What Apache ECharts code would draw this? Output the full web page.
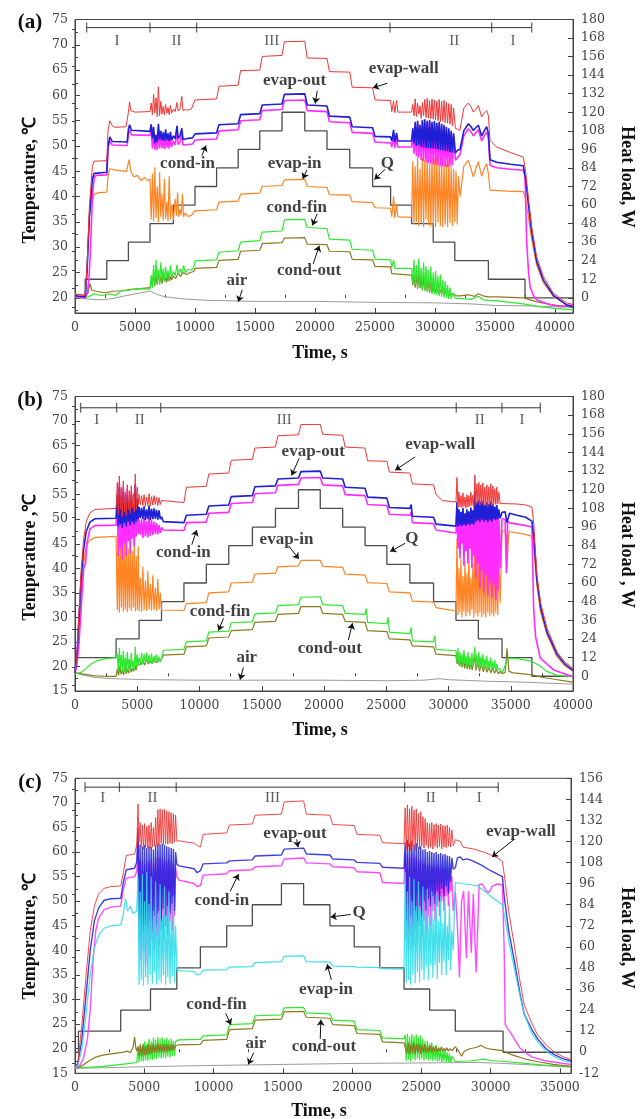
<!DOCTYPE html>
<html><head><meta charset="utf-8">
<script src="https://cdn.jsdelivr.net/npm/echarts@6/dist/echarts.min.js"></script>
<style>html,body{margin:0;padding:0;background:#fff}#chart{width:644px;height:1119px}</style>
</head><body><div id="chart"></div>
<script>
// ---------- tick labels ----------
const timeTicksAB = [0,5000,10000,15000,20000,25000,30000,35000,40000];
const timeTicksC = [0,5000,10000,15000,20000,25000,30000,35000];
const tempTicksA = [20,25,30,35,40,45,50,55,60,65,70,75];
const tempTicksBC = [15,20,25,30,35,40,45,50,55,60,65,70,75];
const loadTicksAB = [0,12,24,36,48,60,72,84,96,108,120,132,144,156,168,180];
const loadTicksC = [-12,0,12,24,36,48,60,72,84,96,108,120,132,144,156];

// ---------- panel (a) : [time s, value] ----------
const loadA = [[0,0],[850,12],[2650,24],[4450,36],[6250,48],[8200,60],[10000,72],[11800,84],[13600,96],[15400,108],[17250,120],[19150,108],[21000,96],[22900,84],[24800,72],[26300,60],[28050,48],[29850,36],[31650,24],[34450,12],[37500,0],[41500,0]];
const wallA = [[0,20.7],[850,20.5],[1000,26],[1200,38],[1450,46],[1600,47],[2650,47.1],[2750,53],[2900,55],[3100,54],[3300,53.7],[4250,53.8],[4450,56.6],[4550,58.7],[4650,57],[5000,56.7],[6250,56.8],
[6350,58.5],[6450,56.2],[6550,60.2],[6650,56.5],[6750,59.5],[6850,55.8],[6950,61.7],[7050,56],[7150,58.8],[7250,56.3],[7350,57.8],[7450,56.1],[7550,58.2],[7650,56.5],[7750,57.6],[7850,56.2],[7950,58],[8050,56.5],[8200,57.3],[8350,56.8],[8500,58.6],[8600,56.9],[8750,57.4],[8900,59.8],[9000,57],[9200,57.2],[9400,57.1],[9700,57.3],
[10000,59.1],[11800,59.3],[12000,61.8],[13600,62],[13800,64.9],[15400,65],[15600,67.7],[17250,67.9],[17450,70.6],[19150,70.7],[19350,67.4],[21000,67.3],[21200,64.7],[22900,64.6],[23100,61.6],[24800,61.5],[25000,59.1],[26300,59.0],[26400,56.8],[26550,58.9],[26650,56.6],[26800,59.0],[26900,56.7],[27400,56.7],[28050,56.7],
[28150,58.2],[28250,56],[28350,59.3],[28450,55.8],[28550,58.5],[28650,56.3],[28750,57.9],[28850,55.5],[28950,58.6],[29050,56],[29150,59.2],[29250,55.6],[29350,59.4],[29450,55.5],[29550,59],[29650,55.4],[29750,59.3],[29850,55.3],[29950,59.1],[30050,55.2],[30150,58.9],[30250,55],[30350,59.2],[30450,54.8],[30550,58.8],[30650,54.9],[30750,59],[30850,54.6],[30950,58.6],[31050,54.5],[31150,58.4],[31250,54.3],[31350,58.2],[31450,54.0],[31550,57.5],[31700,53.5],
[31800,53.5],[32083,53.1],[32400,57.5],[32778,58.5],[33000,57.8],[33195,56.7],[33400,57.2],[33612,58],[33890,55.8],[34100,56.5],[34307,57],[34450,56],[34584,51.1],[35140,49.8],[36300,48.7],[37362,47.8],[37550,45],[37780,39.9],[38057,34.1],[38473,28.1],[39029,24.2],[39862,20.9],[40974,19],[41500,18.7]];
const outA = [[0,20.4],[850,20.2],[1000,25],[1200,36],[1450,43.5],[1600,44.6],[2650,44.8],[2750,50],[2900,51.8],[3100,50.9],[4350,50.8],[4450,53.3],[4550,54.2],[4700,53.1],[6250,52.9],
[6350,54.3],[6450,51.5],[6550,53.8],[6650,50.5],[6750,52.2],[6850,50.8],[6950,54.4],[7050,51.3],[7150,53],[7250,51.1],[7350,52.7],[7450,51],[7550,53.3],[7650,51.2],[7750,52.5],[7850,51],[7950,52.8],[8050,51.1],[8200,52],[8350,51.4],[8500,54],[8600,51.5],[8750,52],[8900,53.5],[9000,51.3],[9400,51.5],[9800,51.6],
[10000,52.4],[11800,52.6],[12000,54.2],[13600,54.4],[13800,56.2],[15400,56.4],[15600,58.1],[17250,58.3],[17450,60.2],[19150,60.3],[19350,58.1],[21000,57.9],[21200,55.9],[22900,55.7],[23100,53.8],[24800,53.6],[25000,51.9],[26300,51.8],[26400,51],[26550,53.2],[26650,50.8],[26800,52.6],[26900,51],[28050,51],
[28150,53.5],[28250,50.5],[28350,54.8],[28450,50],[28550,55],[28650,50.2],[28750,54.2],[28850,49.8],[28950,55.2],[29050,49.7],[29150,55.3],[29250,49.6],[29350,55],[29450,49.6],[29550,55.2],[29650,49.5],[29750,54.8],[29850,49.5],[29950,55],[30050,49.4],[30150,54.6],[30250,49.3],[30350,54.8],[30450,49.2],[30550,54.4],[30650,49.1],[30750,54.2],[30850,49],[30950,53.8],[31050,48.9],[31150,53.5],[31250,48.8],[31350,53],[31450,48.7],[31550,52.5],[31700,48.6],
[31900,49.2],[32083,49.3],[32400,53],[32778,54.4],[33000,53.8],[33195,53.1],[33400,53.6],[33612,54.1],[33890,52],[34100,53],[34307,53.8],[34450,52.5],[34584,47.3],[35140,46.8],[36300,46.4],[37362,46.1],[37550,43.5],[37780,38.5],[38057,33],[38473,27.2],[39029,23.5],[39862,20.5],[40974,18.6],[41500,18.2]];
const condInA = [[0,20.2],[850,20],[1000,21],[1150,23],[1300,30],[1450,40],[1600,43.8],[1750,44.2],[2650,44.3],[2750,49.5],[2900,51],[3100,50.2],[4350,50.1],[4450,52.4],[4550,53.2],[4700,52.2],[6250,52.1],
[6350,53.5],[6450,49.5],[6550,52.8],[6650,49.3],[6750,51.8],[6850,49.2],[6950,53.2],[7050,49.5],[7150,52.2],[7250,49.6],[7350,51.7],[7450,49.4],[7550,52.4],[7650,49.7],[7750,51.5],[7850,49.5],[7950,51.8],[8050,49.8],[8200,51],[8350,50.2],[8500,52.8],[8600,50.3],[8750,50.8],[8900,52.3],[9000,50.2],[9400,50.3],[9800,50.4],
[10000,51.2],[11800,51.4],[12000,53.0],[13600,53.2],[13800,55],[15400,55.2],[15600,57],[17250,57.2],[17450,59],[19150,59.1],[19350,57],[21000,56.8],[21200,54.8],[22900,54.6],[23100,52.7],[24800,52.5],[25000,50.8],[26300,50.6],[26400,49.8],[26550,52.5],[26650,49.6],[26800,51.6],[26900,49.8],[28050,49.8],
[28150,52.5],[28250,48.5],[28350,54],[28450,48],[28550,54.5],[28650,47.8],[28750,53.5],[28850,47.2],[28950,54.8],[29050,47],[29150,54.6],[29250,46.8],[29350,54.5],[29450,46.6],[29550,54.7],[29650,46.5],[29750,54.2],[29850,46.4],[29950,54.5],[30050,46.3],[30150,54],[30250,46.2],[30350,54.2],[30450,46],[30550,53.8],[30650,46],[30750,53.6],[30850,45.9],[30950,53.2],[31050,45.8],[31150,53],[31250,46],[31350,52.4],[31450,46.2],[31550,52],[31700,47.2],
[31900,47.8],[32083,48.3],[32400,52],[32778,53.4],[33000,52.8],[33195,52],[33400,52.6],[33612,53.2],[33890,51],[34100,52],[34307,52.8],[34450,51.5],[34584,46.2],[35140,45.7],[36300,45.4],[37362,45.2],[37500,44],[37640,31],[37800,25],[37918,22.2],[38200,20.5],[38473,19.6],[39500,18.7],[40500,18.3],[41500,18.6]];
const evapInA = [[0,20.8],[850,20.5],[1000,26],[1200,36],[1400,40.5],[1500,39.5],[1600,40.5],[2000,40.8],[2650,40.9],[2750,44],[2900,45.5],[3500,45.2],[4300,45],[4500,47.3],[4650,45],[4900,43.9],[5200,44.2],[5500,43.2],[5800,43.8],[6100,43.1],[6250,43.5],
[6350,35.5],[6450,44.5],[6550,35.2],[6650,45.8],[6750,35.8],[6850,42],[6950,35],[7050,44.8],[7150,36],[7250,40.5],[7350,35.3],[7450,43.5],[7550,35.6],[7650,39],[7750,35.2],[7850,44],[7950,35.5],[8050,38.5],[8200,35.4],[8350,39.5],[8450,36.2],[8550,40.8],[8650,36],[8750,37.5],[8850,36.3],[8950,40.5],[9050,36],[9200,36.8],[9400,36.1],[9700,36.3],
[10000,37.2],[11800,37.4],[12000,38.9],[13600,39.1],[13800,40.5],[15400,40.7],[15600,42],[17250,42.2],[17450,43.3],[19150,43.4],[19350,42],[21000,41.8],[21200,40.4],[22900,40.3],[23100,39],[24800,38.8],[25000,37.8],[26300,37.7],[26400,36],[26550,40],[26650,35.8],[26800,38.5],[26900,36],[28050,35.9],
[28150,47],[28250,34.5],[28350,46],[28450,35],[28550,48],[28650,34.2],[28750,45.5],[28850,34.8],[28950,47.8],[29050,34],[29150,47.2],[29250,35.5],[29350,48],[29450,34.3],[29550,46.5],[29650,34.1],[29750,47.9],[29850,34.5],[29950,47.5],[30050,34],[30150,48],[30250,35],[30350,46.8],[30450,34.2],[30550,47.6],[30650,34],[30750,47],[30850,34.5],[30950,46.5],[31050,34],[31150,47.2],[31250,34.8],[31350,46],[31450,34.2],[31550,45.5],[31650,35],[31750,45],[31850,34.5],[31950,44],[32100,40],
[32400,46],[32778,47.2],[33000,45.5],[33195,43.9],[33400,45.5],[33612,46.9],[33890,44],[34100,45.5],[34307,46.5],[34450,44.5],[34584,41.3],[36000,41.1],[37362,41],[37550,39.5],[37780,36],[38057,31.5],[38473,26.5],[39029,23],[39862,20.3],[40974,18.6],[41500,18.3]];
const finA = [[0,20.1],[850,20],[1200,20.3],[1600,20.8],[2200,20.4],[2800,20.8],[3400,20.5],[3800,21.3],[4450,21.5],[5200,21.8],[6250,21.7],
[6350,24.5],[6450,22],[6550,26.5],[6650,22.3],[6750,27.5],[6850,23],[6950,25.5],[7050,22.6],[7150,27],[7250,23.4],[7350,25.8],[7450,23.2],[7550,26.2],[7650,23.8],[7750,25.4],[7850,23.6],[7950,26.5],[8050,24],[8200,25.2],[8350,24.4],[8500,26.5],[8600,24.6],[8750,25.7],[8900,24.8],[9050,26.4],[9200,25],[9400,25.6],[9700,25.5],[9900,26],
[10000,27.3],[11800,27.5],[12000,29],[13600,29.3],[13800,31],[15400,31.3],[15600,33],[17250,33.2],[17450,35.4],[19150,35.5],[19350,33.9],[21000,33.7],[21200,31.6],[22900,31.4],[23100,29.6],[24800,29.4],[25000,27.6],[26300,27.5],[26400,26],[26550,27.5],[26650,25.8],[28050,25.8],
[28150,23],[28250,27.5],[28350,22.5],[28450,26.5],[28550,22],[28650,27.8],[28750,22.3],[28850,26],[28950,21.8],[29050,27],[29150,21.5],[29250,26.3],[29350,21.3],[29450,25.5],[29550,21],[29650,26.2],[29750,20.8],[29850,25],[29950,20.7],[30050,25.3],[30150,20.5],[30250,24.3],[30350,20.3],[30450,24.6],[30550,20.2],[30650,23.5],[30750,20],[30850,23.3],[30950,20],[31050,22.5],[31150,19.8],[31250,22],[31350,19.8],[31500,21],[31700,19.9],
[32083,19.9],[33000,19.7],[33612,20.3],[34000,19.6],[34450,19.5],[35200,19.4],[36300,19.1],[37362,18.8],[38500,18.3],[40000,17.9],[41500,17.6]];
const condOutA = [[0,20.3],[850,20.2],[1100,21],[1250,22.8],[1400,21.5],[1800,21.3],[2500,21],[3200,21.3],[3800,21.4],[4450,21.6],[5500,21.8],[6250,22],
[6350,23.3],[6450,22.2],[6550,25],[6650,22.4],[6750,24.5],[6850,22.6],[6950,25.6],[7050,23],[7150,24.2],[7250,22.8],[7350,24.8],[7450,23.2],[7550,24],[7650,23.1],[7750,24.6],[7850,23.3],[7950,24.2],[8050,23.5],[8200,24.3],[8400,23.8],[8600,24.9],[8800,24.2],[9000,25],[9300,24.6],[9600,25],[9900,25.2],
[10000,25.8],[11800,26],[12000,27.4],[13600,27.6],[13800,29.2],[15400,29.4],[15600,30.7],[17250,30.9],[17450,31.8],[19150,31.9],[19350,30.6],[21000,30.5],[21200,29.2],[22900,29.1],[23100,27.6],[24800,27.5],[25000,26.2],[26300,26.1],[26400,24.8],[28050,24.5],
[28150,22.5],[28250,24.5],[28350,22],[28450,24.3],[28550,21.8],[28650,24.6],[28750,21.9],[28850,23.8],[28950,21.5],[29050,24],[29150,21.4],[29250,23.5],[29350,21.2],[29450,23.3],[29550,21],[29650,23],[29750,20.9],[29850,22.6],[29950,20.8],[30150,22.2],[30350,20.7],[30550,21.8],[30750,20.6],[30950,21.4],[31200,20.5],[31500,20.8],[31800,20.4],
[32083,20.4],[32800,20.6],[33300,20.3],[33612,20.8],[34000,20.4],[34450,20.2],[35200,20.2],[36300,20.1],[37362,20],[38500,19.2],[40000,18.5],[41500,18.2]];
const airA = [[0,20.1],[850,19.8],[2000,19.6],[3000,19.8],[4000,20.3],[5000,20.8],[6000,21.2],[6300,21.3],[6800,20.7],[7500,20.2],[9000,19.8],[11000,19.5],[15000,19.3],[20000,19.3],[25000,19.1],[30000,19],[33000,18.8],[35000,18.5],[38000,18.4],[41500,18.1]];

// ---------- panel (b) ----------
const loadB = [[0,12],[3300,24],[5150,36],[6950,48],[8750,60],[10550,72],[12350,84],[14250,96],[16100,108],[17950,120],[19700,108],[21500,96],[23300,84],[25050,72],[26900,60],[28800,48],[30600,36],[32400,24],[34300,12],[36700,0],[40000,0]];
const wallB = [[0,18.8],[150,22],[300,30],[500,40],[700,46],[900,49.5],[1200,51.3],[1600,52],[2500,52.1],[3300,52.2],
[3400,57.5],[3480,51],[3560,58.8],[3640,52],[3720,56.5],[3800,50.5],[3880,57.8],[3960,51.5],[4040,55.5],[4120,50.8],[4200,57],[4280,52],[4360,55.8],[4440,51.2],[4520,56.8],[4600,52.3],[4680,55.2],[4760,51.5],[4840,59.2],[4920,52],[5000,56.5],[5080,53],[5150,55],[5250,53],[5350,54.8],[5450,52.8],[5550,55],[5650,52.6],[5750,54.5],[5850,52.8],[5950,55.2],[6050,52.7],[6150,54.6],[6250,52.9],[6350,54.8],[6450,53],[6550,54.5],[6650,52.8],[6750,54.4],[6850,53],[6950,53.8],
[7100,53.5],[8750,53.4],[8950,56.5],[10550,56.7],[10750,59.2],[12350,59.4],[12550,62],[14250,62.2],[14450,64.5],[16100,64.7],[16300,67],[17950,67.2],[18150,69.3],[19700,69.3],[19900,67.3],[21500,67.1],[21700,64.7],[23300,64.5],[23500,61.9],[25050,61.8],[25250,59.6],[26900,59.4],[27100,57.2],[28800,57.0],[29000,55],[29500,53.8],[30600,53.5],
[30680,58.5],[30760,52.3],[30840,55.5],[30920,52.5],[31000,54.8],[31080,52.4],[31160,55.3],[31240,52.6],[31320,54.5],[31400,52.3],[31480,55],[31560,52.5],[31640,54.8],[31720,52.6],[31800,55.5],[31880,52.8],[31960,54.9],[32040,52.4],[32120,59],[32200,53],[32280,57.2],[32360,53.5],[32440,57.5],[32520,52.8],[32600,57],[32680,53.2],[32760,57.4],[32840,52.8],[32920,56.5],[33000,53],[33080,57],[33160,52.6],[33240,56.6],[33320,53],[33400,57.2],[33480,52.7],[33560,56.8],[33640,53.2],[33720,56.2],[33800,53],[33880,56.5],[33960,53.1],[34040,55.5],[34150,53.2],
[34300,53.3],[35500,53.1],[36200,52.9],[36700,52.5],[36850,49],[37104,38.6],[37400,33],[37907,27.8],[38711,23],[39300,21],[40000,19.6]];
const outB = [[0,18.7],[150,22],[300,29],[500,38],[700,44],[900,47.5],[1200,49.4],[1600,50.1],[3300,50.2],
[3400,55],[3480,48.5],[3560,56.5],[3640,49],[3720,54.5],[3800,48.2],[3880,55.8],[3960,49.2],[4040,53.5],[4120,48.5],[4200,55],[4280,49.5],[4360,53.8],[4440,48.8],[4520,54.8],[4600,49.5],[4680,53],[4760,49],[4840,57],[4920,49.5],[5000,54.2],[5080,50],[5150,52.5],[5250,50.2],[5350,52.3],[5450,50],[5550,52.6],[5650,49.8],[5750,52],[5850,50],[5950,52.8],[6050,49.8],[6150,52.1],[6250,50],[6350,52.2],[6450,50.1],[6550,51.9],[6650,49.9],[6750,51.8],[6850,50],[6950,50.5],
[7100,49.5],[8750,49.3],[8950,50.8],[10550,51.0],[10750,52.7],[12350,52.9],[12550,54.6],[14250,54.8],[14450,56.6],[16100,56.8],[16300,58.2],[17950,58.4],[18150,59.7],[19700,59.8],[19900,58.4],[21500,58.2],[21700,56.5],[23300,56.3],[23500,54.5],[25050,54.3],[25250,52.4],[26900,52.2],[27000,53],[27100,50.6],[28800,50.4],[29000,49],[30600,48.6],
[30680,53.5],[30760,48.5],[30840,52],[30920,48.8],[31000,51.5],[31080,48.6],[31160,52.3],[31240,48.9],[31320,51.2],[31400,48.7],[31480,52],[31560,49],[31640,51.6],[31720,48.8],[31800,52.4],[31880,49.1],[31960,51.8],[32040,48.9],[32120,55.5],[32200,49.5],[32280,53.5],[32360,49.8],[32440,54],[32520,49.4],[32600,53.6],[32680,49.9],[32760,53.8],[32840,49.5],[32920,53],[33000,49.8],[33080,53.5],[33160,49.4],[33240,53.1],[33320,49.8],[33400,53.6],[33480,49.5],[33560,53.2],[33640,50],[33720,52.6],[33800,49.8],[33880,52.9],[33960,50],[34040,52],[34150,50.2],
[34300,51.4],[34550,51.5],[34700,49.3],[34900,51.2],[35500,50.8],[36200,50.4],[36700,49.6],[36850,46.5],[37104,37.5],[37400,32],[37907,27],[38711,22.5],[39300,20.6],[40000,19.2]];
const condInB = [[0,18.6],[150,20.5],[300,24],[500,32],[700,40],[850,41],[950,45],[1200,48],[1600,48.7],[3300,48.8],
[3400,54],[3480,42.5],[3560,57.3],[3640,44],[3720,55],[3800,41.8],[3880,56.5],[3960,45],[4040,54.5],[4120,42.5],[4200,56.2],[4280,45.5],[4360,53.5],[4440,43],[4520,55.5],[4600,46],[4680,52.5],[4760,44.5],[4840,57],[4920,46.5],[5000,53],[5080,47],[5150,50],
[5250,46.8],[5350,50],[5450,46.2],[5550,50.3],[5650,46.5],[5750,49.6],[5850,46.3],[5950,50.4],[6050,46.6],[6150,49.8],[6250,46.8],[6350,49.5],[6450,47],[6550,49.2],[6650,46.9],[6750,48.8],[6850,47.2],[6950,48.3],
[7100,47.8],[8750,47.7],[8950,49.3],[10550,49.4],[10750,51.2],[12350,51.4],[12550,53.2],[14250,53.4],[14450,55.2],[16100,55.4],[16300,56.9],[17950,57.1],[18150,58.4],[19700,58.5],[19900,57],[21500,56.8],[21700,55],[23300,54.8],[23500,53],[25050,52.8],[25250,51],[26900,50.8],[27000,51.5],[27100,49.3],[28800,49.1],[29000,47.8],[30600,47.2],
[30680,52],[30760,44],[30840,51],[30920,42],[31000,50.5],[31080,45],[31160,51.5],[31240,40.5],[31320,50],[31400,43.5],[31480,51],[31560,41],[31640,50.5],[31720,44],[31800,51.8],[31880,40],[31960,50.6],[32040,42.5],[32120,54],[32200,38],[32280,53],[32360,41],[32440,53.5],[32520,36],[32600,53],[32680,39.5],[32760,53.4],[32840,35],[32920,52.5],[33000,38.5],[33080,53],[33160,34.5],[33240,52.8],[33320,37],[33400,53.2],[33480,34],[33560,52.6],[33640,36.5],[33720,52],[33800,33.5],[33880,52.2],[33960,35.5],[34040,51.5],[34150,40],
[34300,50.1],[34550,50],[34650,39],[34750,49.5],[35000,49.2],[35800,48.9],[36700,48.4],[36836,31.9],[37000,26],[37372,21.7],[38443,19.3],[40000,17.9]];
const evapInB = [[0,18.6],[150,21],[300,27],[500,35],[700,41],[900,44.5],[1100,45.5],[1600,46.3],[3300,46.5],
[3400,31.5],[3480,47.2],[3560,31],[3640,46.5],[3720,32],[3800,47.4],[3880,31.2],[3960,45.5],[4040,31.6],[4120,46.8],[4200,31.1],[4280,44],[4360,31.8],[4440,46.2],[4520,31.3],[4600,43.5],[4680,32],[4760,45.8],[4840,31.2],[4920,42.5],[5000,31.5],[5080,44.5],[5150,31.3],
[5250,38],[5350,31.2],[5450,40.3],[5550,31.5],[5650,37.5],[5750,31.3],[5850,39.5],[5950,31.6],[6050,36.8],[6150,31.4],[6250,38.6],[6350,31.5],[6450,36],[6550,31.3],[6650,37.8],[6750,31.6],[6850,35],[6950,31.5],
[7100,31.3],[8750,31.4],[8950,32.8],[10550,33],[10750,35],[12350,35.2],[12550,37],[14250,37.2],[14450,38.8],[16100,39],[16300,40.3],[17950,40.5],[18150,41.6],[19700,41.6],[19900,40.4],[21500,40.2],[21700,38.8],[23300,38.6],[23500,37.1],[25050,36.9],[25250,35.2],[26900,35],[27100,33.3],[28800,33.1],[29000,32],[30600,31.3],
[30680,46],[30760,30.5],[30840,40],[30920,31],[31000,42],[31080,30],[31160,38.5],[31240,31.2],[31320,41.5],[31400,30.2],[31480,39],[31560,31],[31640,43],[31720,30.4],[31800,38],[31880,31.5],[31960,41],[32040,30],[32120,47],[32200,30.8],[32280,44],[32360,30.2],[32440,45.5],[32520,31],[32600,43],[32680,30.1],[32760,46],[32840,30.6],[32920,42.5],[33000,30],[33080,45],[33160,31],[33240,43.5],[33320,30.3],[33400,45.8],[33480,30.8],[33560,42],[33640,30.2],[33720,44],[33800,31],[33880,41.5],[33960,30.5],[34040,43],[34150,33],
[34300,47.5],[34550,47.8],[34700,40],[34850,47.5],[35500,47.2],[36200,46.9],[36700,46.5],[36850,44],[37104,36.5],[37400,31],[37907,26.5],[38711,22],[39300,20.2],[40000,19]];
const finB = [[0,18.5],[500,18.8],[900,19.6],[1300,20.5],[1800,21.2],[2500,21.6],[3300,21.8],
[3400,22.5],[3480,19],[3560,23.8],[3640,19.5],[3720,22.4],[3800,18.6],[3880,23.2],[3960,19.2],[4040,21.8],[4120,18.8],[4200,23],[4280,19.6],[4360,21.5],[4440,19],[4520,22.8],[4600,19.8],[4680,21.2],[4760,19.3],[4840,24],[4920,19.8],[5000,22.5],[5080,20.2],[5150,21.8],
[5250,20.5],[5350,22.8],[5450,20.4],[5550,22.5],[5650,20.6],[5750,22.9],[5850,20.5],[5950,22.3],[6050,20.7],[6150,22.6],[6250,20.6],[6350,22.2],[6450,20.8],[6550,22.4],[6650,20.7],[6750,22],[6850,20.9],[6950,21.5],
[7100,23.3],[8750,23.5],[8950,25],[10550,25.2],[10750,27],[12350,27.2],[12550,28.9],[14250,29.1],[14450,30.7],[16100,30.9],[16300,32.4],[17950,32.6],[18150,34.1],[19700,34.2],[19900,32.6],[21500,32.4],[21700,30.8],[23300,30.6],[23400,31.8],[23500,29],[25050,28.7],[25150,30],[25250,27],[26900,26.7],[27000,28],[27100,25.2],[28800,25],[28900,26.3],[29000,23.5],[30600,23.2],
[30680,21],[30760,23.8],[30840,20.2],[30920,23],[31000,20.6],[31080,22.6],[31160,20],[31240,23.4],[31320,20.5],[31400,22.2],[31480,19.8],[31560,23],[31640,20.4],[31720,22],[31800,19.6],[31880,22.8],[31960,20.2],[32040,21.8],[32120,24],[32200,19.8],[32280,22.5],[32360,20],[32440,23],[32520,19.5],[32600,22],[32680,19.8],[32760,22.6],[32840,19.4],[32920,21.5],[33000,19.7],[33080,22.2],[33160,19.3],[33240,21.2],[33320,19.6],[33400,21.8],[33480,19.2],[33560,21],[33640,19.5],[33720,21.3],[33800,19.2],[33880,20.6],[33960,19.4],[34150,19.5],
[34300,18.6],[34600,20.5],[34830,21.7],[35500,21.6],[36200,21.3],[36700,21],[37300,20.2],[37900,19],[38700,18.2],[40000,17.9]];
const condOutB = [[0,18.7],[800,18.4],[1600,18.1],[2500,18],[3300,18],
[3400,19.5],[3500,18.2],[3600,20],[3700,18.4],[3800,19.3],[3900,18.3],[4000,20.2],[4100,18.5],[4200,19.4],[4300,18.6],[4400,20.3],[4500,18.8],[4600,19.6],[4700,19],[4800,20.5],[4900,19.2],[5000,20.3],[5150,20],
[5300,20.4],[5450,21.2],[5600,20.3],[5750,21.4],[5900,20.5],[6050,21.2],[6200,20.6],[6350,21.5],[6500,20.8],[6650,21.3],[6800,21],[6950,21.5],
[7100,22.3],[8750,22.5],[8950,24],[10550,24.2],[10750,25.8],[12350,26],[12550,27.3],[14250,27.5],[14450,29],[16100,29.2],[16300,30.6],[17950,30.8],[18150,32.2],[19700,32.2],[19900,30.8],[21500,30.6],[21700,29.2],[23300,29],[23500,27.3],[25050,27.1],[25250,25.6],[26900,25.4],[27100,24.2],[28800,24],[29000,22.5],[30600,22.2],
[30700,20.5],[30800,22],[30900,20],[31000,21.5],[31100,19.8],[31200,21.7],[31300,19.6],[31400,21.2],[31500,19.5],[31600,21],[31700,19.4],[31800,20.8],[31900,19.3],[32000,20.5],[32120,22],[32200,19.2],[32350,20.8],[32500,19],[32650,20.5],[32800,18.9],[32950,20.2],[33100,18.8],[33250,19.9],[33400,18.7],[33550,19.7],[33700,18.6],[33850,19.4],[34000,18.5],[34150,19],
[34300,18.5],[34550,18.8],[34700,23.7],[34850,19],[35200,18.7],[36000,18.5],[36700,18.3],[37500,17.8],[38500,17.4],[40000,16.8]];
const airB = [[0,18.8],[500,18.3],[1500,17.8],[3000,17.5],[6000,17.3],[10000,17.2],[15000,17.2],[20000,17.2],[25000,17.1],[28000,17.2],[29300,17.5],[30000,17.3],[33000,17],[36000,16.8],[40000,16.4]];

// ---------- panel (c) ----------
const loadC = [[0,0],[250,12],[3300,24],[5450,36],[7350,48],[9050,60],[10950,72],[12800,84],[14900,96],[16500,84],[18400,72],[20150,60],[22000,48],[23750,36],[25600,24],[27450,12],[30900,0],[35800,0]];
const wallC = [[0,16.5],[200,17],[500,25],[800,35],[1100,44],[1400,49],[1700,51.5],[2100,52.6],[2600,53],[3300,53.1],[3500,56],[3700,59.3],[4300,59.6],[4460,61.5],
[4550,69.8],[4620,62],[4700,66],[4780,61],[4860,65.5],[4940,60.5],[5020,65.8],[5100,61],[5180,65.2],[5260,60.8],[5340,65.5],[5420,60.5],[5500,66],[5580,61],[5660,65],[5740,61.2],[5820,67],[5900,61.5],[5980,68.6],[6060,61.2],[6140,68.8],[6220,61.8],[6300,68.6],[6380,61.5],[6460,68.7],[6540,61.7],[6620,68.4],[6700,61.6],[6780,68.2],[6860,61.8],[6940,68],[7020,61.7],[7100,67.8],[7180,62],[7260,67.5],[7354,62.2],
[7500,62.3],[8600,61.8],[8900,61.2],[9050,61],[9250,63.6],[10950,63.9],[11150,65.5],[12800,65.7],[13000,67.5],[14900,67.7],[15100,70.2],[16500,70.4],[16700,67.7],[18400,67.5],[18600,65.6],[20150,65.4],[20350,63.6],[22000,63.4],[22200,61.9],[23750,61.7],
[23830,69],[23910,60.5],[23990,69.6],[24070,61],[24150,68.8],[24230,60.3],[24310,69.3],[24390,61.2],[24470,68.5],[24550,60.5],[24630,68.8],[24710,61],[24790,67.8],[24870,60.6],[24950,68.2],[25030,61.2],[25110,67.2],[25190,60.8],[25270,66.8],[25350,61.3],[25430,66],[25510,60.7],[25590,65.8],[25670,61],[25750,66],[25830,60.6],[25910,65.6],[25990,61.2],[26070,65.8],[26150,60.8],[26230,65.5],[26310,61.1],[26390,65.7],[26470,60.6],[26550,65.4],[26630,61],[26710,65.3],[26790,60.9],[26870,65.5],[26950,61.2],[27030,65],[27110,61],[27200,64.5],[27300,61.3],[27450,62.5],
[27800,62.2],[28000,61],[28800,60.6],[29700,59.8],[30500,58.8],[30850,58.1],[30979,55.5],[31300,48],[31702,41.1],[32100,34],[32425,28.9],[33000,25],[33390,22.8],[34000,20.8],[34595,19.3],[35200,18.4],[35800,17.8]];
const outC = [[0,16.3],[200,16.8],[500,22],[800,31],[1100,40],[1400,46],[1700,48.6],[2100,50.2],[2600,50.5],[3300,50.6],[3500,54],[3700,56.4],[4300,56.7],[4460,58],
[4550,65],[4620,46],[4700,61.5],[4780,43],[4860,61],[4940,44],[5020,61.5],[5100,45],[5180,60.8],[5260,43.5],[5340,61.2],[5420,46],[5500,61],[5580,44],[5660,60.5],[5740,47],[5820,61.5],[5900,45],[5980,61.8],[6060,48],[6140,61.6],[6220,46],[6300,61.7],[6380,48.5],[6460,61.5],[6540,47],[6620,61.2],[6700,49],[6780,61],[6860,47.5],[6940,60.8],[7020,49.5],[7100,60.6],[7180,48],[7260,60],[7354,57.5],
[7500,57.2],[8600,56.6],[8800,55.8],[9050,56.2],[9250,57.6],[10950,57.8],[11150,58.2],[12800,58.4],[13000,59.2],[14900,59.4],[15100,60.6],[16500,60.8],[16700,59.6],[18400,59.4],[18600,58.6],[20150,58.4],[20350,57.9],[22000,57.7],[22200,56.9],[23750,56.7],
[23830,62],[23910,46],[23990,62.5],[24070,44],[24150,61.8],[24230,47],[24310,62.3],[24390,45],[24470,61.5],[24550,48],[24630,61.8],[24710,46],[24790,61],[24870,49],[24950,61.2],[25030,47],[25110,60.5],[25190,50],[25270,60.6],[25350,48],[25430,60],[25510,50.5],[25590,60.2],[25670,49],[25750,60],[25830,51],[25910,59.8],[25990,49.5],[26070,60],[26150,52],[26230,59.6],[26310,50],[26390,59.8],[26470,52.5],[26550,59.5],[26630,51],[26710,59.6],[26790,53],[26870,59.3],[26950,51.5],[27030,59.2],[27110,54],[27200,58.8],[27300,56.5],[27450,56.8],
[27600,58.8],[27800,59],[28000,58.4],[28300,58.6],[28700,58.2],[29300,57.4],[30000,56.2],[30850,55],[30979,51],[31300,44],[31702,38],[32100,31.5],[32425,27],[33000,23.8],[33390,22],[34000,20],[34595,18.8],[35200,18],[35800,17.5]];
const condInC = [[0,16],[300,16.3],[600,18],[900,22],[1100,28],[1300,38],[1500,44],[1700,46.5],[2100,48.3],[2600,48.8],[3300,49],[3500,52.5],[3700,54.7],[4300,55],[4460,56],
[4550,62],[4620,42],[4700,58.5],[4780,38],[4860,58],[4940,40],[5020,57.5],[5100,37],[5180,58.2],[5260,41],[5340,57.8],[5420,39],[5500,58.5],[5580,42],[5660,57.6],[5740,40],[5820,58.8],[5900,43],[5980,59],[6060,41],[6140,58.6],[6220,44],[6300,58.8],[6380,42],[6460,58.5],[6540,45],[6620,58.2],[6700,43],[6780,58.4],[6860,46],[6940,58],[7020,44],[7100,57.6],[7180,47],[7260,57],[7354,55],
[7500,54.3],[8600,53.6],[8800,53],[9050,53.2],[9250,55.3],[10950,55.6],[11150,56.2],[12800,56.4],[13000,57],[14900,57.2],[15100,58.6],[16500,58.8],[16700,57.8],[18400,57.6],[18600,57],[20150,56.8],[20350,56],[22000,55.8],[22200,53.8],[23750,53.6],
[23830,60],[23910,42],[23990,59.5],[24070,40],[24150,59],[24230,43],[24310,59.6],[24390,41],[24470,58.8],[24550,44],[24630,59],[24710,42],[24790,58.2],[24870,45],[24950,58.5],[25030,43],[25110,57.8],[25190,46],[25270,57.8],[25350,44],[25430,57.2],[25510,47],[25590,57.5],[25670,45],[25750,57],[25830,48],[25910,57.2],[25990,46],[26070,56.8],[26150,49],[26230,57],[26310,47],[26390,56.6],[26470,50],[26550,56.8],[26630,48],[26710,56.5],[26790,51],[26870,56.4],[26950,49],[27030,56.2],[27110,52],[27200,55],[27300,48],[27450,52],
[27600,45],[27750,34.5],[27900,50],[28050,52],[28250,38.4],[28400,52],[28600,39.5],[28750,51.5],[28950,35.5],[29170,53.4],[29400,53.5],[29700,52],[29900,51.8],[30100,53],[30500,53.5],[30850,53.3],[30979,40],[31050,25],[31200,24.2],[31500,23],[31702,22],[32100,20.2],[32425,19.4],[33000,18.3],[34000,17.5],[35800,16.8]];
const evapInC = [[0,16.2],[200,16.5],[500,20],[800,27],[1100,35],[1400,40.5],[1700,43],[2100,44.5],[2600,45],[3300,45.2],[3500,47.5],[3650,50.5],[3800,48],[4000,49],[4200,47.5],[4460,48],
[4550,55],[4620,33],[4700,52],[4780,34],[4860,55.5],[4940,32.8],[5020,50],[5100,34.5],[5180,56],[5260,33],[5340,49.5],[5420,35],[5500,55],[5580,33.2],[5660,48],[5740,35.5],[5820,54],[5900,33],[5980,47.5],[6060,34],[6140,53.5],[6220,33.5],[6300,46.5],[6380,35],[6460,53],[6540,33],[6620,47],[6700,34.5],[6780,52],[6860,33.2],[6940,46],[7020,34.8],[7100,51],[7180,33.5],[7260,45],[7354,36],
[7500,35.9],[8600,35.7],[8800,35],[9050,35.2],[9250,36],[10950,36.1],[11150,36.6],[12800,36.7],[13000,37.5],[14900,37.7],[15100,38.8],[16500,38.9],[16700,37.7],[18400,37.6],[18600,36.8],[20150,36.7],[20350,36.6],[22000,36.5],[22200,36.3],[23750,36.2],
[23830,56],[23910,33.5],[23990,52],[24070,34],[24150,55],[24230,33],[24310,50],[24390,35],[24470,54.5],[24550,33.3],[24630,49],[24710,35.5],[24790,54],[24870,33.5],[24950,48],[25030,36],[25110,53],[25190,34],[25270,47.5],[25350,36.5],[25430,52.5],[25510,34],[25590,47],[25670,37],[25750,52],[25830,34.5],[25910,46.5],[25990,37],[26070,51.5],[26150,34.2],[26230,46],[26310,37.5],[26390,51],[26470,35],[26550,45.5],[26630,37.8],[26710,50.5],[26790,35],[26870,45],[26950,38],[27030,50],[27110,36],[27200,44],[27300,40],[27450,53.8],
[27800,53.6],[28500,53.4],[29050,53.1],[29500,52.2],[30000,51],[30500,50],[30850,49.3],[30979,47.5],[31300,42],[31702,36.5],[32100,31],[32425,27],[33000,23],[33390,21.5],[34000,19.5],[34595,18.4],[35200,17.6],[35800,17.2]];
const finC = [[0,16.1],[1000,16.2],[2000,16.4],[3000,16.7],[4000,17],[4460,17.2],
[4550,20],[4620,17.3],[4700,21],[4780,17.5],[4860,20.5],[4940,17.4],[5020,21.5],[5100,17.6],[5180,21],[5260,17.5],[5340,22],[5420,17.8],[5500,21.5],[5580,17.7],[5660,22.2],[5740,18],[5820,21.8],[5900,17.9],[5980,22.4],[6060,18.2],[6140,22],[6220,18],[6300,22.3],[6380,18.3],[6460,21.9],[6540,18.1],[6620,22.2],[6700,18.4],[6780,21.8],[6860,18.2],[6940,22],[7020,18.5],[7100,21.6],[7180,18.6],[7260,21.5],[7354,21.8],
[7500,21.8],[9050,21.9],[9250,22.6],[10950,22.8],[11150,24.9],[12800,25.1],[13000,26.7],[14900,26.9],[15100,28.3],[16500,28.4],[16700,27.3],[18400,27.1],[18600,25.8],[20150,25.6],[20350,23.9],[22000,23.7],[22200,22.2],[23750,22],
[23830,22.8],[23910,17.5],[23990,23],[24070,17.8],[24150,22.5],[24230,17.4],[24310,23],[24390,17.9],[24470,22.6],[24550,17.6],[24630,22.9],[24710,18],[24790,22.4],[24870,17.7],[24950,22.7],[25030,18],[25110,22],[25190,17.6],[25270,21.5],[25350,17.9],[25430,21.6],[25510,17.6],[25590,21],[25670,17.8],[25750,21.3],[25830,17.5],[25910,20.5],[25990,17.6],[26070,20.8],[26150,17.4],[26230,20.2],[26310,17.5],[26390,20],[26470,17.3],[26550,19.5],[26630,17.4],[26710,19.8],[26790,17.2],[26870,19.2],[26950,17.3],[27030,19],[27110,17.2],[27200,18.5],[27450,17.4],
[28500,17.5],[29500,17.9],[30000,17.6],[31000,17.4],[32500,17],[34000,16.6],[35800,16.3]];
const condOutC = [[0,16.2],[500,16.5],[1000,17.5],[1500,18.3],[2000,18.7],[2500,18.9],[3000,19.1],[3500,19.3],[3800,19.5],[4000,19.2],[4200,20.3],[4300,22.4],[4400,20],[4460,19.5],
[4550,20.5],[4640,18.6],[4730,20.8],[4820,18.5],[4910,21],[5000,18.7],[5090,20.6],[5180,18.8],[5270,21],[5360,18.9],[5450,20.7],[5540,19],[5630,21],[5720,19.1],[5810,20.8],[5900,19.2],[5990,21.1],[6080,19.3],[6170,20.9],[6260,19.2],[6350,21],[6440,19.4],[6530,20.9],[6620,19.3],[6710,21],[6800,19.5],[6890,20.8],[6980,19.6],[7070,20.9],[7160,19.8],[7260,20.6],[7354,20.8],
[7500,20.8],[9050,20.9],[9250,21.7],[10950,21.9],[11150,23.9],[12800,24.1],[13000,25.8],[14900,26],[15100,27.5],[16500,27.6],[16700,26.4],[18400,26.2],[18600,24.9],[20150,24.7],[20350,23.1],[22000,22.9],[22200,21.4],[23750,21.2],
[23850,20.8],[23950,19],[24050,21.2],[24150,18.8],[24250,21],[24350,19.1],[24450,21.3],[24550,18.9],[24650,21],[24750,19.2],[24850,21.1],[24950,19],[25050,20.8],[25150,19.3],[25250,20.9],[25350,19.1],[25450,20.6],[25550,19.3],[25650,20.7],[25750,19.2],[25850,20.4],[25950,19.4],[26050,20.5],[26150,19.3],[26250,20.2],[26350,19.5],[26450,20.4],[26550,19.4],[26650,20.1],[26750,19.6],[26850,20.2],[26950,19.5],[27050,20],[27200,19.6],[27450,20.4],
[27700,19.5],[27900,18.5],[28100,19.5],[28500,20],[29000,20.3],[29300,20.7],[29600,20.2],[30000,19.9],[30850,19.6],[31500,18.8],[32500,17.9],[33500,17.3],[34500,16.8],[35800,16.4]];
const airC = [[0,16],[3000,16.2],[6000,16.4],[10000,16.6],[15000,16.8],[20000,17],[25000,17.1],[29000,17.2],[31000,17],[33000,16.7],[35800,16.3]];

// ---------- operating-phase marks: [time s] and roman labels ----------
const phaseTicksA = [972,6250,10140,26250,34720,38060];
const phaseNamesA = [['I',3500],['II',8450],['III',16400],['II',31600],['I',36500]];
const phaseTicksB = [455,3348,6885,30621,34291,37372];
const phaseNamesB = [['I',1750],['II',5200],['III',16800],['II',32500],['I',35900]];
const phaseTicksC = [724,3207,7306,23794,27555,30545];
const phaseNamesC = [['I',2000],['II',5600],['III',14250],['II',25675],['I',29170]];

// ---------- curve labels and pointer arrows ----------
const notesA = [
  {text:'evap-wall', at:[27400,65.3], from:[26025,62.4], to:[24825,61.5]},
  {text:'evap-out',  at:[18300,63.0], from:[20190,60.9], to:[20017,58.4]},
  {text:'cond-in',   at:[9375,46.5],  from:[10575,48.1], to:[10917,50.1]},
  {text:'evap-in',   at:[18300,46.5], from:[19330,45.3], to:[18983,43.5]},
  {text:'Q',         at:[26025,46.6], from:[25850,45.4], to:[24950,43.4]},
  {text:'cond-fin',  at:[18475,37.9], from:[20190,36.6], to:[19775,34.3]},
  {text:'cond-out',  at:[19500,25.4], from:[19850,26.7], to:[20358,30.3]},
  {text:'air',       at:[13500,23.4], from:[13940,21.6], to:[13600,19.2]}
];
const notesB = [
  {text:'evap-wall', at:[29335,65.1], from:[27326,62.7], to:[25718,60.0]},
  {text:'evap-out',  at:[19137,63.8], from:[18000,62.4], to:[17400,58.9]},
  {text:'cond-in',   at:[8707,43.1],  from:[9378,44.8],  to:[9780,47.8]},
  {text:'evap-in',   at:[16990,45.9], from:[17150,44.6], to:[17980,41.9]},
  {text:'Q',         at:[27060,46.1], from:[26520,45.1], to:[25316,43.4]},
  {text:'cond-fin',  at:[11654,31.2], from:[11922,29.8], to:[11520,27.3]},
  {text:'cond-out',  at:[20462,23.7], from:[21957,25.4], to:[22286,28.8]},
  {text:'air',       at:[13797,21.8], from:[13527,19.8], to:[13261,17.3]}
];
const notesC = [
  {text:'evap-wall', at:[32183,64.1], from:[31702,62.6], to:[30100,59.0]},
  {text:'evap-out',  at:[15880,63.8], from:[16000,62.6], to:[16100,61.0]},
  {text:'cond-in',   at:[10600,50.1], from:[11200,52.0], to:[11800,55.5]},
  {text:'Q',         at:[20500,47.6], from:[19900,47.3], to:[18450,46.8]},
  {text:'evap-in',   at:[18117,32.0], from:[18500,34.0], to:[18200,37.2]},
  {text:'cond-fin',  at:[10220,28.9], from:[10870,27.2], to:[11262,24.9]},
  {text:'cond-out',  at:[17967,20.4], from:[17700,22.0], to:[17750,25.9]},
  {text:'air',       at:[13050,21.1], from:[12900,19.2], to:[12500,16.8]}
];

// ---------- styling ----------
const C = {wall:'#f03535', out:'#1f1fd8', cin:'#ff2cff', ein:'#ff8424', einC:'#2fdbe8', fin:'#2fe82f', cout:'#8c7a22', air:'#9c9c9c', load:'#4d4d4d'};
const SERIF = '"Liberation Serif","Times New Roman",serif';
const TICKFONT = '"DejaVu Serif",serif';

const panels = [
  {grid:{left:75, top:19.5, width:498, height:293.5}, tMax:41500, tempMin:17, loadMin:-9.818, loadMax:180,
   timeTicks:timeTicksAB, tempTicks:tempTicksA, loadTicks:loadTicksAB,
   curves:[[loadA,C.load,1.3,true,1],[airA,C.air,1,false,1],[condOutA,C.cout,1.2,false,1],[finA,C.fin,1.2,false,1],[evapInA,C.ein,1.2,false,1],[condInA,C.cin,1.6,false,1],[outA,C.out,1.6,false,1],[wallA,C.wall,1,false,1]],
   phaseTicks:phaseTicksA, phaseNames:phaseNamesA, barLevel:73.4, nameLevel:70.7, notes:notesA,
   tag:'(a)', tagY:23, yTitle:'Temperature, \u2103', yTitleY:180, rTitle:'Heat load, W', rTitleY:177, xTitleY:353},
  {grid:{left:75, top:396.5, width:498, height:294.5}, tMax:40000, tempMin:15, loadMin:-9.474, loadMax:180,
   timeTicks:timeTicksAB, tempTicks:tempTicksBC, loadTicks:loadTicksAB,
   curves:[[loadB,C.load,1.3,true,1],[airB,C.air,1,false,1],[condOutB,C.cout,1.2,false,1],[finB,C.fin,1.2,false,1],[evapInB,C.ein,1.2,false,1],[condInB,C.cin,1.6,false,1],[outB,C.out,1.6,false,1],[wallB,C.wall,1,false,1]],
   phaseTicks:phaseTicksB, phaseNames:phaseNamesB, barLevel:72.7, nameLevel:70.3, notes:notesB,
   tag:'(b)', tagY:401, yTitle:'Temperature ,\u2103', yTitleY:557, rTitle:'Heat load , W', rTitleY:555, xTitleY:730},
  {grid:{left:75, top:778.3, width:496, height:295}, tMax:35800, tempMin:15, loadMin:-12, loadMax:156,
   timeTicks:timeTicksC, tempTicks:tempTicksBC, loadTicks:loadTicksC,
   curves:[[loadC,C.load,1.3,true,1],[airC,C.air,1,false,1],[finC,C.fin,1.2,false,1],[condOutC,C.cout,1.2,false,1],[condInC,C.cin,1.4,false,0.85],[outC,C.out,1.4,false,0.85],[evapInC,C.einC,1.2,false,0.9],[wallC,C.wall,1,false,0.9]],
   phaseTicks:phaseTicksC, phaseNames:phaseNamesC, barLevel:73.2, nameLevel:71.0, notes:notesC,
   tag:'(c)', tagY:783, yTitle:'Temperature, \u2103', yTitleY:936, rTitle:'Heat load, W', rTitleY:938, xTitleY:1111}
];

// half-way positions between labelled ticks (minor ticks)
function halfSteps(ticks, lo, hi) {
  const step = ticks[1] - ticks[0], out = [];
  for (let v = ticks[0] - step / 2; v <= hi; v += step) if (v >= lo) out.push(v);
  return out;
}

const grids = [], xAxes = [], yAxes = [], series = [], graphics = [];
const axisInk = {color:'#444', width:1};
const tickLabel = {color:'#444', fontFamily:TICKFONT, fontSize:12.5, formatter: v => String(v)};

panels.forEach((P, i) => {
  grids.push(Object.assign({show:true, borderColor:'#444', borderWidth:1, containLabel:false, outerBoundsMode:'none'}, P.grid));
  // time axis + minor ticks
  xAxes.push({gridIndex:i, type:'value', min:0, max:P.tMax, position:'bottom',
    axisLine:{show:true, onZero:false, lineStyle:axisInk},
    axisTick:{show:true, inside:true, length:5, customValues:P.timeTicks, lineStyle:axisInk},
    axisLabel:Object.assign({show:true, margin:8, customValues:P.timeTicks}, tickLabel), splitLine:{show:false}});
  xAxes.push({gridIndex:i, type:'value', min:0, max:P.tMax, position:'bottom',
    axisLine:{show:false}, axisTick:{show:true, inside:true, length:3, customValues:halfSteps(P.timeTicks, 0, P.tMax), lineStyle:axisInk},
    axisLabel:{show:false}, splitLine:{show:false}});
  // temperature axis (left)
  yAxes.push({gridIndex:i, type:'value', min:P.tempMin, max:75, position:'left',
    axisLine:{show:true, onZero:false, lineStyle:axisInk},
    axisTick:{show:true, inside:true, length:5, customValues:P.tempTicks, lineStyle:axisInk},
    axisLabel:Object.assign({show:true, margin:7, customValues:P.tempTicks}, tickLabel), splitLine:{show:false}});
  yAxes.push({gridIndex:i, type:'value', min:P.tempMin, max:75, position:'left',
    axisLine:{show:false}, axisTick:{show:true, inside:true, length:3, customValues:halfSteps(P.tempTicks, P.tempMin, 75), lineStyle:axisInk},
    axisLabel:{show:false}, splitLine:{show:false}});
  // heat load axis (right)
  yAxes.push({gridIndex:i, type:'value', min:P.loadMin, max:P.loadMax, position:'right',
    axisLine:{show:true, onZero:false, lineStyle:axisInk},
    axisTick:{show:true, inside:true, length:5, customValues:P.loadTicks, lineStyle:axisInk},
    axisLabel:Object.assign({show:true, margin:8, customValues:P.loadTicks}, tickLabel), splitLine:{show:false}});
  yAxes.push({gridIndex:i, type:'value', min:P.loadMin, max:P.loadMax, position:'right',
    axisLine:{show:false}, axisTick:{show:true, inside:true, length:3, customValues:halfSteps(P.loadTicks, P.loadMin, P.loadMax), lineStyle:axisInk},
    axisLabel:{show:false}, splitLine:{show:false}});

  const xi = 2 * i, ti = 4 * i, li = 4 * i + 2;
  P.curves.forEach(([data, color, width, isLoad, opacity], k) => {
    series.push({type:'line', xAxisIndex:xi, yAxisIndex:isLoad ? li : ti, data,
      step: isLoad ? 'end' : false, symbol:'none', showSymbol:false, z:2 + k,
      lineStyle:{color, width, opacity}, silent:true});
  });
  // phase bar
  const t0 = P.phaseTicks[0], t1 = P.phaseTicks[P.phaseTicks.length - 1];
  series.push({type:'line', xAxisIndex:xi, yAxisIndex:ti, data:[[t0, P.barLevel],[t1, P.barLevel]],
    symbol:'none', lineStyle:{color:'#333', width:1}, silent:true, z:15});
  series.push({type:'scatter', xAxisIndex:xi, yAxisIndex:ti, data:P.phaseTicks.map(t => [t, P.barLevel]),
    symbol:'rect', symbolSize:[1.2, 10], itemStyle:{color:'#333'}, silent:true, z:15});
  series.push({type:'scatter', xAxisIndex:xi, yAxisIndex:ti,
    data:P.phaseNames.map(([n, t]) => ({name:n, value:[t, P.nameLevel]})), symbolSize:0, silent:true, z:15,
    label:{show:true, position:'inside', formatter:'{b}', fontFamily:SERIF, fontSize:15, color:'#333'}});
  // pointer arrows and curve names
  series.push({type:'lines', coordinateSystem:'cartesian2d', xAxisIndex:xi, yAxisIndex:ti,
    data:P.notes.map(n => ({coords:[n.from, n.to]})), symbol:['none','arrow'], symbolSize:6,
    lineStyle:{color:'#111', width:1, opacity:1}, silent:true, z:20});
  series.push({type:'scatter', xAxisIndex:xi, yAxisIndex:ti,
    data:P.notes.map(n => ({name:n.text, value:n.at})), symbolSize:0, silent:true, z:21,
    label:{show:true, position:'inside', formatter:'{b}', fontFamily:SERIF, fontWeight:'bold', fontSize:17, color:'#111'}});

  // titles
  const cx = P.grid.left + P.grid.width / 2;
  const centred = {fill:'#111', align:'center', verticalAlign:'middle', textAlign:'center', textVerticalAlign:'middle'};
  graphics.push({type:'text', x:30, y:P.tagY, style:Object.assign({text:P.tag, font:'bold 21px ' + SERIF}, centred)});
  graphics.push({type:'text', x:30, y:P.yTitleY, rotation:Math.PI / 2, style:Object.assign({text:P.yTitle, font:'bold 18px ' + SERIF}, centred)});
  graphics.push({type:'text', x:627, y:P.rTitleY, rotation:-Math.PI / 2, style:Object.assign({text:P.rTitle, font:'bold 18px ' + SERIF}, centred)});
  graphics.push({type:'text', x:cx - 4, y:P.xTitleY, style:Object.assign({text:'Time, s', font:'bold 18px ' + SERIF}, centred)});
});

const chart = echarts.init(document.getElementById('chart'), null, {renderer:'canvas'});
chart.setOption({
  animation:false, backgroundColor:'#fff',
  textStyle:{fontFamily:SERIF},
  grid:grids, xAxis:xAxes, yAxis:yAxes, series, graphic:graphics
});
</script></body></html>
